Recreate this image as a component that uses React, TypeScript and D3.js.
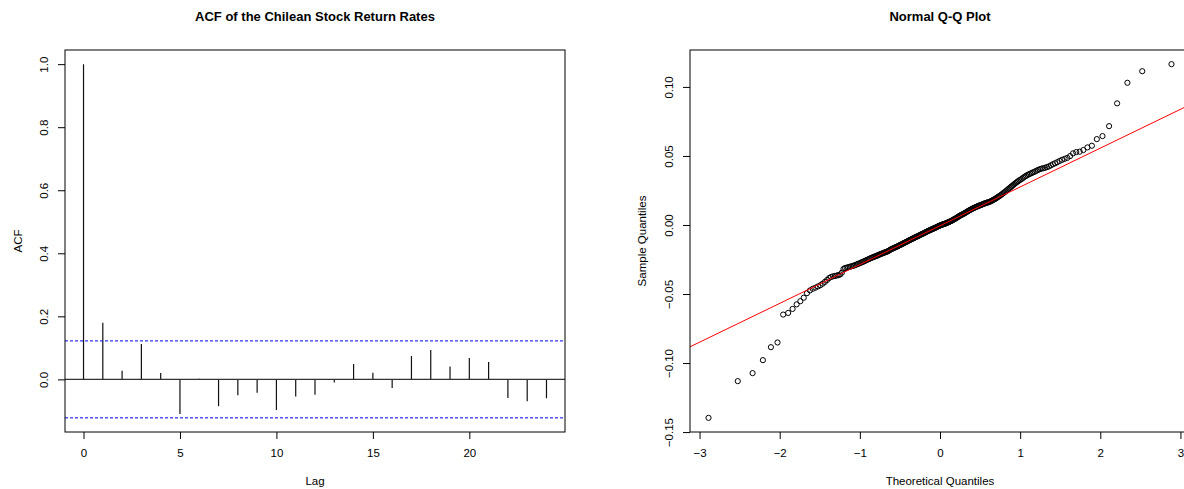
import * as d3 from 'd3';
import React, { useEffect, useRef } from 'react';

// ACF of the return series
const acfLags = [0, 1, 2, 3, 4, 5, 6, 7, 8, 9, 10, 11, 12, 13, 14, 15, 16, 17, 18, 19, 20, 21, 22, 23, 24];
const acfValues = [
  1.0, 0.180, 0.027, 0.112, 0.020, -0.110, 0.002, -0.085, -0.050, -0.042,
  -0.097, -0.054, -0.049, -0.010, 0.049, 0.021, -0.027, 0.074, 0.093, 0.041,
  0.068, 0.055, -0.059, -0.069, -0.060
];
const acfXTicks = [0, 5, 10, 15, 20];
const acfYTicks = [0, 0.2, 0.4, 0.6, 0.8, 1.0];

// sorted sample of monthly return rates
const returnRates = [
  -0.1397, -0.1131, -0.1073, -0.0979, -0.0885, -0.0851, -0.0649, -0.0637, -0.0608, -0.0575,
  -0.0552, -0.0527, -0.0494, -0.0474, -0.0462, -0.0454, -0.0445, -0.0436, -0.0425, -0.0412,
  -0.0398, -0.0384, -0.0376, -0.0372, -0.0369, -0.0366, -0.0363, -0.0358, -0.0345, -0.0318,
  -0.0312, -0.0309, -0.0306, -0.0303, -0.0300, -0.0297, -0.0294, -0.0290, -0.0286, -0.0282,
  -0.0278, -0.0274, -0.0270, -0.0266, -0.0262, -0.0258, -0.0254, -0.0250, -0.0246, -0.0242,
  -0.0238, -0.0235, -0.0232, -0.0229, -0.0226, -0.0223, -0.0219, -0.0216, -0.0213, -0.0210,
  -0.0207, -0.0204, -0.0201, -0.0199, -0.0196, -0.0193, -0.0190, -0.0186, -0.0182, -0.0177,
  -0.0174, -0.0171, -0.0168, -0.0165, -0.0162, -0.0159, -0.0156, -0.0153, -0.0149, -0.0146,
  -0.0143, -0.0140, -0.0137, -0.0133, -0.0130, -0.0127, -0.0124, -0.0121, -0.0118, -0.0114,
  -0.0111, -0.0108, -0.0105, -0.0102, -0.0099, -0.0096, -0.0093, -0.0090, -0.0087, -0.0084,
  -0.0082, -0.0079, -0.0076, -0.0073, -0.0070, -0.0067, -0.0064, -0.0062, -0.0059, -0.0056,
  -0.0053, -0.0050, -0.0047, -0.0044, -0.0042, -0.0039, -0.0036, -0.0034, -0.0031, -0.0029,
  -0.0026, -0.0024, -0.0021, -0.0019, -0.0016, -0.0013, -0.0010, -0.0008, -0.0005,
  -0.0002, 0.0000, 0.0002, 0.0004, 0.0006, 0.0008, 0.0010, 0.0012, 0.0014, 0.0017,
  0.0019, 0.0022, 0.0025, 0.0027, 0.0030, 0.0033, 0.0036, 0.0040, 0.0043, 0.0046,
  0.0049, 0.0053, 0.0057, 0.0061, 0.0064, 0.0068, 0.0071, 0.0074, 0.0077, 0.0080,
  0.0083, 0.0087, 0.0090, 0.0094, 0.0098, 0.0101, 0.0105, 0.0108, 0.0111, 0.0115,
  0.0118, 0.0121, 0.0124, 0.0127, 0.0129, 0.0132, 0.0135, 0.0139, 0.0141, 0.0142,
  0.0145, 0.0148, 0.0151, 0.0154, 0.0156, 0.0158, 0.0161, 0.0163, 0.0164, 0.0167,
  0.0170, 0.0173, 0.0177, 0.0181, 0.0185, 0.0188, 0.0194, 0.0198, 0.0204, 0.0208,
  0.0213, 0.0218, 0.0224, 0.0230, 0.0236, 0.0242, 0.0249, 0.0256, 0.0263, 0.0269,
  0.0276, 0.0283, 0.0290, 0.0297, 0.0304, 0.0311, 0.0317, 0.0324, 0.0329, 0.0336,
  0.0343, 0.0350, 0.0356, 0.0362, 0.0367, 0.0372, 0.0377, 0.0382, 0.0387, 0.0393,
  0.0399, 0.0404, 0.0408, 0.0411, 0.0415, 0.0419, 0.0424, 0.0432, 0.0440, 0.0447,
  0.0455, 0.0464, 0.0472, 0.0479, 0.0486, 0.0499, 0.0519, 0.0528, 0.0531, 0.0543,
  0.0562, 0.0574, 0.0622, 0.0644, 0.0716, 0.0881, 0.1030, 0.1114, 0.1165
];
const qqXTicks = [-3, -2, -1, 0, 1, 2, 3];
const qqYTicks = [-0.15, -0.10, -0.05, 0, 0.05, 0.10];

const W = 1184;
const H = 489;
const FONT = '"Liberation Sans", Arial, Helvetica, sans-serif';
const LABEL_SIZE = 11.5;

// Acklam's inverse normal cdf
function qnorm(p: number): number {
  const a = [-3.969683028665376e+01, 2.209460984245205e+02, -2.759285104469687e+02, 1.383577518672690e+02, -3.066479806614716e+01, 2.506628277459239e+00];
  const b = [-5.447609879822406e+01, 1.615858368580409e+02, -1.556989798598866e+02, 6.680131188771972e+01, -1.328068155288572e+01];
  const c = [-7.784894002430293e-03, -3.223964580411365e-01, -2.400758277161838e+00, -2.549732539343734e+00, 4.374664141464968e+00, 2.938163982698783e+00];
  const d = [7.784695709041462e-03, 3.224671290700398e-01, 2.445134137142996e+00, 3.754408661907416e+00];
  const pl = 0.02425;
  if (p < pl) {
    const q = Math.sqrt(-2 * Math.log(p));
    return (((((c[0] * q + c[1]) * q + c[2]) * q + c[3]) * q + c[4]) * q + c[5]) / ((((d[0] * q + d[1]) * q + d[2]) * q + d[3]) * q + 1);
  }
  if (p > 1 - pl) {
    const q = Math.sqrt(-2 * Math.log(1 - p));
    return -(((((c[0] * q + c[1]) * q + c[2]) * q + c[3]) * q + c[4]) * q + c[5]) / ((((d[0] * q + d[1]) * q + d[2]) * q + d[3]) * q + 1);
  }
  const q = p - 0.5;
  const r = q * q;
  return (((((a[0] * r + a[1]) * r + a[2]) * r + a[3]) * r + a[4]) * r + a[5]) * q / (((((b[0] * r + b[1]) * r + b[2]) * r + b[3]) * r + b[4]) * r + 1);
}

// R's 4% axis padding
const pad = ([lo, hi]: number[]) => {
  const e = (hi - lo) * 0.04;
  return [lo - e, hi + e];
};

function styleAxis(g: any) {
  g.select('.domain').remove();
  g.selectAll('line').attr('stroke', 'black');
  g.selectAll('text').attr('fill', 'black').attr('font-size', LABEL_SIZE).attr('font-family', FONT);
}

function rotateYLabels(g: any) {
  g.selectAll('text')
    .attr('transform', 'rotate(-90)')
    .attr('x', 0)
    .attr('y', -17)
    .attr('dy', 0)
    .attr('text-anchor', 'middle');
}

export default function App() {
  const svgRef = useRef(null);

  useEffect(() => {
    const svg = d3.select(svgRef.current);
    svg.selectAll('*').remove();

    // ---------- ACF panel ----------
    const a = { left: 65, right: 565, top: 50, bottom: 432 };
    const n = returnRates.length;
    const clim = 1.959964 / Math.sqrt(n);

    const ax = d3.scaleLinear().domain(pad([0, 24])).range([a.left, a.right]);
    const ay = d3.scaleLinear().domain(pad([-clim, 1])).range([a.bottom, a.top]);

    const acf = svg.append('g');

    acf.append('g')
      .selectAll('line')
      .data(acfLags)
      .join('line')
      .attr('x1', (d) => ax(d))
      .attr('x2', (d) => ax(d))
      .attr('y1', ay(0))
      .attr('y2', (d, i) => ay(acfValues[i]))
      .attr('stroke', '#111')
      .attr('stroke-width', 1.2);

    acf.append('line')
      .attr('x1', a.left).attr('x2', a.right)
      .attr('y1', ay(0)).attr('y2', ay(0))
      .attr('stroke', '#333').attr('stroke-width', 1.4);

    [clim, -clim].forEach((v) => {
      acf.append('line')
        .attr('x1', a.left).attr('x2', a.right)
        .attr('y1', ay(v)).attr('y2', ay(v))
        .attr('stroke', '#0000ff')
        .attr('stroke-dasharray', '3,2');
    });

    acf.append('rect')
      .attr('x', a.left).attr('y', a.top)
      .attr('width', a.right - a.left).attr('height', a.bottom - a.top)
      .attr('fill', 'none').attr('stroke', 'black');

    acf.append('g')
      .attr('transform', `translate(0, ${a.bottom})`)
      .call(d3.axisBottom(ax).tickValues(acfXTicks).tickSize(7).tickPadding(10).tickFormat(d3.format('d')))
      .call(styleAxis);

    acf.append('g')
      .attr('transform', `translate(${a.left}, 0)`)
      .call(d3.axisLeft(ay).tickValues(acfYTicks).tickSize(7).tickFormat(d3.format('.1f')))
      .call(styleAxis)
      .call(rotateYLabels);

    acf.append('text')
      .attr('x', (a.left + a.right) / 2).attr('y', 21)
      .attr('text-anchor', 'middle')
      .attr('font-family', FONT).attr('font-size', 13).attr('font-weight', 'bold')
      .text('ACF of the Chilean Stock Return Rates');

    acf.append('text')
      .attr('x', (a.left + a.right) / 2).attr('y', 485)
      .attr('text-anchor', 'middle')
      .attr('font-family', FONT).attr('font-size', LABEL_SIZE)
      .text('Lag');

    acf.append('text')
      .attr('transform', `translate(22, ${(a.top + a.bottom) / 2}) rotate(-90)`)
      .attr('text-anchor', 'middle')
      .attr('font-family', FONT).attr('font-size', LABEL_SIZE)
      .text('ACF');

    // ---------- Normal Q-Q panel ----------
    const q = { left: 690, right: 1190, top: 50, bottom: 432 };
    const sample = d3.sort(returnRates);
    const theo = sample.map((_, i) => qnorm((i + 1 - 0.5) / n));
    const pts = sample.map((v, i) => ({ t: theo[i], v }));

    const qx = d3.scaleLinear().domain(pad(d3.extent(theo) as number[])).range([q.left, q.right]);
    const qy = d3.scaleLinear().domain(pad(d3.extent(sample) as number[])).range([q.bottom, q.top]);

    const qq = svg.append('g');

    svg.append('defs').append('clipPath').attr('id', 'qqclip')
      .append('rect')
      .attr('x', q.left).attr('y', q.top)
      .attr('width', q.right - q.left).attr('height', q.bottom - q.top);

    qq.append('g')
      .selectAll('circle')
      .data(pts)
      .join('circle')
      .attr('cx', (d) => qx(d.t))
      .attr('cy', (d) => qy(d.v))
      .attr('r', 2.6)
      .attr('fill', 'none')
      .attr('stroke', 'black')
      .attr('stroke-width', 1);

    // qqline through the quartiles
    const yq = [d3.quantile(sample, 0.25) as number, d3.quantile(sample, 0.75) as number];
    const xq = [qnorm(0.25), qnorm(0.75)];
    const slope = (yq[1] - yq[0]) / (xq[1] - xq[0]);
    const intercept = yq[0] - slope * xq[0];
    const [x0, x1] = qx.domain();
    qq.append('path')
      .attr('clip-path', 'url(#qqclip)')
      .attr('d', d3.line<number>().x((t) => qx(t)).y((t) => qy(intercept + slope * t))([x0, x1]))
      .attr('fill', 'none')
      .attr('stroke', 'red')
      .attr('stroke-width', 1);

    qq.append('rect')
      .attr('x', q.left).attr('y', q.top)
      .attr('width', q.right - q.left).attr('height', q.bottom - q.top)
      .attr('fill', 'none').attr('stroke', 'black');

    qq.append('g')
      .attr('transform', `translate(0, ${q.bottom})`)
      .call(d3.axisBottom(qx).tickValues(qqXTicks).tickSize(7).tickPadding(10).tickFormat(d3.format('d')))
      .call(styleAxis);

    qq.append('g')
      .attr('transform', `translate(${q.left}, 0)`)
      .call(d3.axisLeft(qy).tickValues(qqYTicks).tickSize(7).tickFormat(d3.format('.2f')))
      .call(styleAxis)
      .call(rotateYLabels);

    qq.append('text')
      .attr('x', (q.left + q.right) / 2).attr('y', 21)
      .attr('text-anchor', 'middle')
      .attr('font-family', FONT).attr('font-size', 13).attr('font-weight', 'bold')
      .text('Normal Q-Q Plot');

    qq.append('text')
      .attr('x', (q.left + q.right) / 2).attr('y', 485)
      .attr('text-anchor', 'middle')
      .attr('font-family', FONT).attr('font-size', LABEL_SIZE)
      .text('Theoretical Quantiles');

    qq.append('text')
      .attr('transform', `translate(${q.left - 44}, ${(q.top + q.bottom) / 2}) rotate(-90)`)
      .attr('text-anchor', 'middle')
      .attr('font-family', FONT).attr('font-size', LABEL_SIZE)
      .text('Sample Quantiles');
  }, []);

  return (
    <svg
      ref={svgRef}
      width={W}
      height={H}
      style={{ position: 'fixed', left: 0, top: 0, background: 'white', display: 'block' }}
    />
  );
}
